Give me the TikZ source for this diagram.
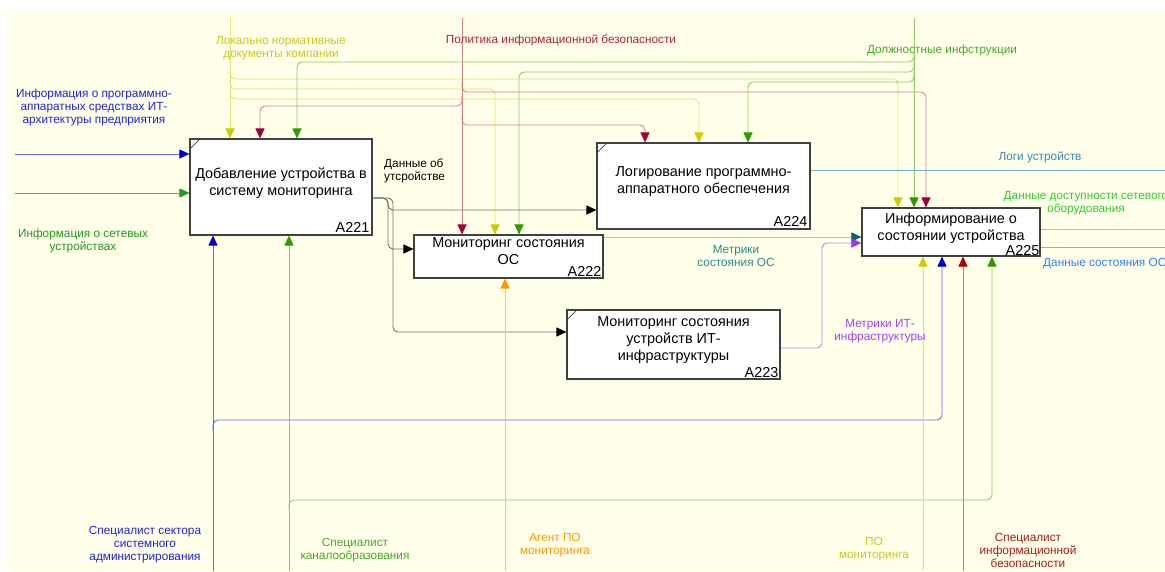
\documentclass[tikz,border=0pt]{standalone}
\usepackage{fontspec}
\setmainfont{Liberation Sans}
\usetikzlibrary{arrows.meta,positioning}

\definecolor{paper}{HTML}{FFFFEA}
\definecolor{boxln}{HTML}{404040}
\definecolor{ylwln}{HTML}{E2E27A}
\definecolor{ylwtp}{HTML}{CCCC00}
\definecolor{ylwtx}{HTML}{C8C820}
\definecolor{redln}{HTML}{D98090}
\definecolor{redtp}{HTML}{A0003A}
\definecolor{redtx}{HTML}{B0204A}
\definecolor{grnln}{HTML}{8CCB64}
\definecolor{grntp}{HTML}{339900}
\definecolor{grntx}{HTML}{44AA22}
\definecolor{bluln}{HTML}{6A6AF0}
\definecolor{blutp}{HTML}{0000CC}
\definecolor{blutx}{HTML}{2020E0}
\definecolor{netln}{HTML}{50B040}
\definecolor{nettp}{HTML}{229922}
\definecolor{gryln}{HTML}{707070}
\definecolor{tealln}{HTML}{9ACFC5}
\definecolor{tealtp}{HTML}{006B6B}
\definecolor{tealtx}{HTML}{2A8A8A}
\definecolor{purln}{HTML}{C47CFF}
\definecolor{purtp}{HTML}{9933FF}
\definecolor{purtx}{HTML}{A040FF}
\definecolor{logln}{HTML}{78AECB}
\definecolor{logtx}{HTML}{3A88B0}
\definecolor{availln}{HTML}{8ED88E}
\definecolor{availtx}{HTML}{33CC33}
\definecolor{osln}{HTML}{7DB0F2}
\definecolor{ostx}{HTML}{3080F0}
\definecolor{oraln}{HTML}{FFC060}
\definecolor{oratp}{HTML}{FF9900}
\definecolor{secln}{HTML}{E07070}
\definecolor{sectp}{HTML}{AA0000}
\definecolor{sectx}{HTML}{AA1A1A}

\begin{document}
\begin{tikzpicture}[x=1pt, y=-1pt,
  actbox/.style={draw=boxln, line width=1.1pt, fill=white, inner sep=0pt},
  boxtitle/.style={align=center, font=\fontsize{14.4}{17}\selectfont},
  boxnum/.style={anchor=south east, inner sep=3pt, font=\fontsize{14.4}{17}\selectfont},
  lbl/.style={align=center, inner sep=0pt, font=\fontsize{11.8}{13}\selectfont},
  flow/.style={line width=0.9pt, rounded corners=5pt},
  arrowhd/.style={-{Triangle[length=10pt,width=9pt,color=#1]}},
  ylwflow/.style={flow, draw=ylwln, arrowhd=ylwtp},
  redflow/.style={flow, draw=redln, arrowhd=redtp},
  grnflow/.style={flow, draw=grnln, arrowhd=grntp},
  bluflow/.style={flow, draw=bluln, arrowhd=blutp},
  netflow/.style={flow, draw=netln, arrowhd=nettp},
  gryflow/.style={flow, draw=gryln, arrowhd=black},
  tealflow/.style={flow, draw=tealln, arrowhd=tealtp},
  purflow/.style={flow, draw=purln, arrowhd=purtp},
  oraflow/.style={flow, draw=oraln, arrowhd=oratp},
  secflow/.style={flow, draw=secln, arrowhd=sectp}
]
\useasboundingbox (0,0) rectangle (1165,571);
\fill[paper] (8,12) rectangle (1165,571);

% activity boxes
\node[actbox, minimum width=182, minimum height=96] (a221) at (281,187) {};
\node[actbox, minimum width=189, minimum height=43] (a222) at (508.5,256.5) {};
\node[actbox, minimum width=213, minimum height=69] (a223) at (673.5,344.5) {};
\node[actbox, minimum width=213, minimum height=86] (a224) at (703.5,186) {};
\node[actbox, minimum width=178, minimum height=48] (a225) at (951,232) {};

\node[boxtitle] (t221) at ([yshift=4pt]a221.center) {Добавление устройства в\\систему мониторинга};
\node[boxtitle] (t222) at ([yshift=5pt]a222.center) {Мониторинг состояния\\ОС};
\node[boxtitle] (t223) at ([yshift=4pt]a223.center) {Мониторинг состояния\\устройств ИТ-\\инфраструктуры};
\node[boxtitle] (t224) at ([yshift=4pt]a224.center) {Логирование программно-\\аппаратного обеспечения};
\node[boxtitle] (t225) at ([yshift=4pt]a225.center) {Информирование о\\состоянии устройства};

\node[boxnum] (n221) at (a221.south east) {A221};
\node[boxnum, inner sep=2pt] (n222) at (a222.south east) {A222};
\node[boxnum, inner sep=2pt] (n223) at (a223.south east) {A223};
\node[boxnum] (n224) at (a224.south east) {A224};
\node[boxnum, inner sep=1pt] (n225) at (a225.south east) {A225};

% corner marks
\foreach \b in {a221,a223,a224}
  \draw[boxln, line width=0.8pt] ([yshift=-11pt]\b.north west) -- ([xshift=11pt]\b.north west);

% free ends
\coordinate (inHw) at (15,154);
\coordinate (inNet) at (15,193);
\coordinate (ctlDoc) at (230,18);
\coordinate (ctlPol) at (462,18);
\coordinate (ctlJob) at (914,18);
\coordinate (mAdm) at (213,571);
\coordinate (mChan) at (289,571);
\coordinate (mAgent) at (505,571);
\coordinate (mSw) at (923,571);
\coordinate (mSec) at (963,571);
\coordinate (outLogs) at (1165,170);
\coordinate (outAvail) at (1165,229);
\coordinate (outOs) at (1165,247);

% inputs
\draw[bluflow] (inHw) -- (inHw -| a221.west);
\draw[netflow] (inNet) -- (inNet -| a221.west);

% controls
\draw[ylwflow] (ctlDoc) -- (ctlDoc |- a221.north);
\draw[ylwflow] (ctlDoc |- 0,70) |- (898,79) -- (898,0 |- a225.north);
\draw[ylwflow] (ctlDoc |- 0,80) |- (495,89) -- (495,0 |- a222.north);
\draw[ylwflow] (ctlDoc |- 0,90) |- (699,99) -- (699,0 |- a224.north);

\draw[redflow] (ctlPol) -- (ctlPol |- a222.north);
\draw[redflow] (ctlPol |- 0,96) |- (260,106) -- (260,0 |- a221.north);
\draw[redflow] (ctlPol |- 0,82) |- (926,92) -- (926,0 |- a225.north);
\draw[redflow] (ctlPol |- 0,115) |- (645,125) -- (645,0 |- a224.north);

\draw[grnflow] (ctlJob) -- (ctlJob |- a225.north);
\draw[grnflow] (ctlJob |- 0,52) |- (297,62) -- (297,0 |- a221.north);
\draw[grnflow] (ctlJob |- 0,62) |- (519,72) -- (519,0 |- a222.north);
\draw[grnflow] (ctlJob |- 0,72) |- (748,82) -- (748,0 |- a224.north);

% device data from A221
\draw[gryflow] (a221.east |- 0,198) -| (388,210) -- (a224.west |- 0,210);
\draw[gryflow] (a221.east |- 0,198) -| (388,249) -- (a222.west |- 0,249);
\draw[gryflow] (a221.east |- 0,198) -| (393,332) -- (a223.west |- 0,332);

% outputs
\draw[tealflow] (a222.east |- 0,237) -- (a225.west |- 0,237);
\draw[purflow] (a223.east |- 0,348) -| (822,243) -- (a225.west |- 0,243);
\draw[flow, draw=logln] (a224.east |- outLogs) -- (outLogs);
\draw[flow, draw=availln] (a225.east |- outAvail) -- (outAvail);
\draw[flow, draw=osln] (a225.east |- outOs) -- (outOs);

% mechanisms
\draw[bluflow] (mAdm) -- (mAdm |- a221.south);
\draw[bluflow] (mAdm |- 0,430) |- (942,420) -- (942,0 |- a225.south);
\draw[grnflow] (mChan) -- (mChan |- a221.south);
\draw[grnflow] (mChan |- 0,510) |- (992,500) -- (992,0 |- a225.south);
\draw[oraflow] (mAgent) -- (mAgent |- a222.south);
\draw[ylwflow] (mSw) -- (mSw |- a225.south);
\draw[secflow] (mSec) -- (mSec |- a225.south);

% labels
\node[lbl, text=blutx] (lInHw) at (94,107) {Информация о программно-\\аппаратных средствах ИТ-\\архитектуры предприятия};
\node[lbl, text=nettp] (lInNet) at (83,241) {Информация о сетевых\\устройствах};
\node[lbl, text=ylwtx] (lDoc) at (281,48) {Локально нормативные\\документы компании};
\node[lbl, text=redtx] (lPol) at (561,40) {Политика информационной безопасности};
\node[lbl, text=grntx] (lJob) at (942,50) {Должностные инфструкции};
\node[lbl, text=black, align=left, anchor=west] (lDev) at (384,171) {Данные об\\утсройстве};
\node[lbl, text=logtx] (lLogs) at (1040,157) {Логи устройств};
\node[lbl, text=availtx] (lAvail) at (1086,203) {Данные доступности сетевого\\оборудования};
\node[lbl, text=tealtx] (lOsM) at (736,256) {Метрики\\состояния ОС};
\node[lbl, text=purtx] (lItM) at (880,331) {Метрики ИТ-\\инфраструктуры};
\node[lbl, text=ostx, anchor=west] (lOsData) at (1043,264) {Данные состояния ОС};
\node[lbl, text=blutx] (lAdm) at (145,545) {Специалист сектора\\системного\\администрирования};
\node[lbl, text=grntx] (lChan) at (355,550) {Специалист\\каналообразования};
\node[lbl, text=oratp] (lAgent) at (555,545) {Агент ПО\\мониторинга};
\node[lbl, text=ylwtx] (lSw) at (874,549) {ПО\\мониторинга};
\node[lbl, text=sectx] (lSec) at (1028,550) {Специалист\\информационной\\безопасности};
\end{tikzpicture}
\end{document}
